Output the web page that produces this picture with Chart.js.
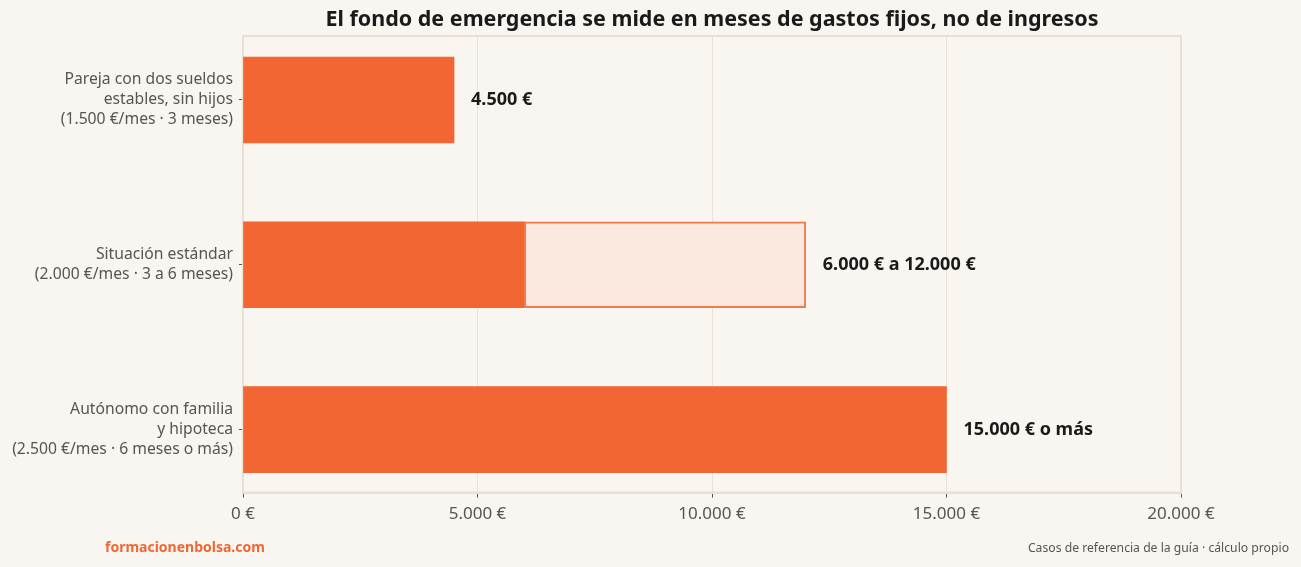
<!DOCTYPE html>
<html lang="es">
<head>
<meta charset="utf-8">
<title>Fondo de emergencia</title>
<script src="https://cdn.jsdelivr.net/npm/chart.js@4/dist/chart.umd.min.js"></script>
<style>
  html, body { margin: 0; padding: 0; background: #f9f6f1; }
  #wrap { width: 1301px; height: 567px; position: relative; }
</style>
</head>
<body>
<div id="wrap"><canvas id="fondoChart"></canvas></div>
<script>
// Casos de la guía
const categorias = [
    ['Pareja con dos sueldos', 'estables, sin hijos', '(1.500 €/mes · 3 meses)'],
    ['Situación estándar', '(2.000 €/mes · 3 a 6 meses)'],
    ['Autónomo con familia', 'y hipoteca', '(2.500 €/mes · 6 meses o más)']
];
const minimo = [4500, 6000, 15000];
const rango = [null, [6000, 12000], null];
const etiquetas = ['4.500 €', '6.000 € a 12.000 €', '15.000 € o más'];
const ticksX = [0, 5000, 10000, 15000, 20000];

const naranja = '#f26633';
const fuente = "'Noto Sans', 'DejaVu Sans', sans-serif";

function euros(v) {
    return String(v).replace(/\B(?=(\d{3})+(?!\d))/g, '.') + ' €';
}

// Marco, título, etiquetas de valor y pie
const extras = {
    id: 'extras',
    beforeDatasetsDraw(chart) {
        const { ctx, chartArea: a } = chart;
        ctx.save();
        ctx.strokeStyle = '#e7e0d4';
        ctx.lineWidth = 2;
        ctx.strokeRect(a.left, a.top, a.right - a.left, a.bottom - a.top);
        ctx.restore();
    },
    afterDatasetsDraw(chart) {
        const { ctx, chartArea: a } = chart;
        ctx.save();
        ctx.font = `bold 18px ${fuente}`;
        ctx.fillStyle = '#1a1a1a';
        ctx.textBaseline = 'middle';
        etiquetas.forEach((txt, i) => {
            const meta = chart.getDatasetMeta(rango[i] ? 1 : 0);
            const el = meta.data[i];
            if (el) ctx.fillText(txt, el.x + 17, el.y);
        });

        ctx.textAlign = 'center';
        ctx.font = `bold 21.5px ${fuente}`;
        ctx.fillText('El fondo de emergencia se mide en meses de gastos fijos, no de ingresos', (a.left + a.right) / 2, 20);

        ctx.textAlign = 'left';
        ctx.font = `bold 14px ${fuente}`;
        ctx.fillStyle = naranja;
        ctx.fillText('formacionenbolsa.com', 105, 548);
        ctx.textAlign = 'right';
        ctx.font = `12.2px ${fuente}`;
        ctx.fillStyle = '#555';
        ctx.fillText('Casos de referencia de la guía · cálculo propio', 1289, 549);
        ctx.restore();
    }
};

new Chart(document.getElementById('fondoChart'), {
    type: 'bar',
    data: {
        datasets: [{
            label: 'Mínimo',
            data: minimo.map((v, i) => ({ x: v, y: i })),
            backgroundColor: naranja,
            borderWidth: 0,
            barThickness: 86,
            grouped: false,
            order: 2
        }, {
            label: 'Rango',
            data: rango.map((v, i) => ({ x: v, y: i })),
            backgroundColor: '#fbe9df',
            borderColor: '#f07a4a',
            borderWidth: 2,
            borderSkipped: false,
            barThickness: 86,
            grouped: false,
            order: 1
        }]
    },
    options: {
        indexAxis: 'y',
        responsive: true,
        maintainAspectRatio: false,
        animation: false,
        layout: { padding: { top: 36, right: 120, bottom: 37, left: 0 } },
        plugins: {
            legend: { display: false },
            tooltip: { enabled: false }
        },
        scales: {
            x: {
                type: 'linear',
                min: 0,
                max: 20000,
                afterBuildTicks(scale) { scale.ticks = ticksX.map(v => ({ value: v })); },
                ticks: {
                    callback: v => euros(v),
                    color: '#555',
                    font: { family: fuente, size: 17 },
                    padding: 6
                },
                grid: { color: '#e8e3d6', lineWidth: 1, tickColor: '#555', tickLength: 5 },
                border: { color: '#e7e0d4', width: 2 }
            },
            y: {
                type: 'linear',
                reverse: true,
                offset: false,
                min: -0.388,
                max: 2.382,
                afterBuildTicks(scale) { scale.ticks = categorias.map((c, i) => ({ value: i })); },
                afterFit(scale) { scale.width = 243; },
                ticks: {
                    callback: v => categorias[v],
                    color: '#555',
                    font: { family: fuente, size: 15.7, lineHeight: 1.27 },
                    padding: 6
                },
                grid: { offset: false, drawOnChartArea: false, tickColor: '#555', tickLength: 4 },
                border: { color: '#e7e0d4', width: 2 }
            }
        }
    },
    plugins: [extras]
});
</script>
</body>
</html>
